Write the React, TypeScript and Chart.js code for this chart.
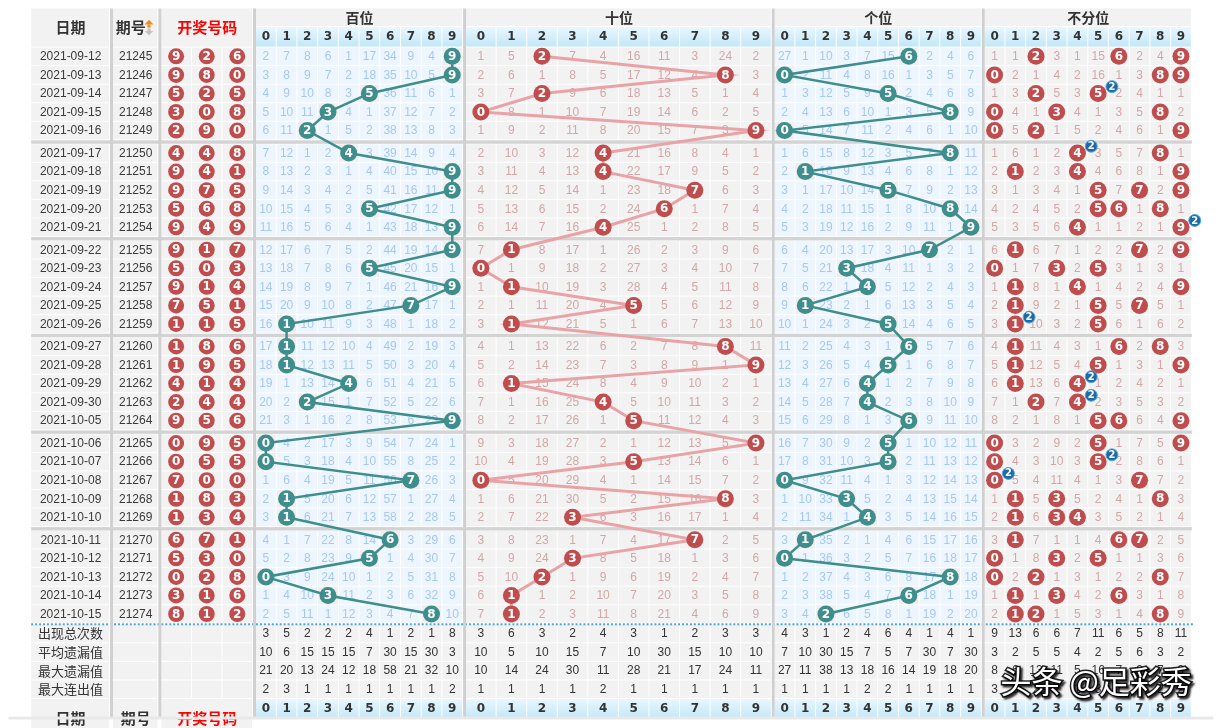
import React, { useEffect, useRef } from "react";
import { Chart, registerables } from "chart.js";

Chart.register(...registerables);

// ---------------- data ----------------
const dates = [
  "2021-09-12", "2021-09-13", "2021-09-14", "2021-09-15", "2021-09-16",
  "2021-09-17", "2021-09-18", "2021-09-19", "2021-09-20", "2021-09-21",
  "2021-09-22", "2021-09-23", "2021-09-24", "2021-09-25", "2021-09-26",
  "2021-09-27", "2021-09-28", "2021-09-29", "2021-09-30", "2021-10-05",
  "2021-10-06", "2021-10-07", "2021-10-08", "2021-10-09", "2021-10-10",
  "2021-10-11", "2021-10-12", "2021-10-13", "2021-10-14", "2021-10-15",
];
const issues = [
  "21245", "21246", "21247", "21248", "21249",
  "21250", "21251", "21252", "21253", "21254",
  "21255", "21256", "21257", "21258", "21259",
  "21260", "21261", "21262", "21263", "21264",
  "21265", "21266", "21267", "21268", "21269",
  "21270", "21271", "21272", "21273", "21274",
];
const hundreds = [9, 9, 5, 3, 2, 4, 9, 9, 5, 9, 9, 5, 9, 7, 1, 1, 1, 4, 2, 9, 0, 0, 7, 1, 1, 6, 5, 0, 3, 8];
const tens = [2, 8, 2, 0, 9, 4, 4, 7, 6, 4, 1, 0, 1, 5, 1, 8, 9, 1, 4, 5, 9, 5, 0, 8, 3, 7, 3, 2, 1, 1];
const units = [6, 0, 5, 8, 0, 8, 1, 5, 8, 9, 7, 3, 4, 1, 5, 6, 5, 4, 4, 6, 5, 5, 0, 3, 4, 1, 0, 8, 6, 2];

const digitLabels = ["0", "1", "2", "3", "4", "5", "6", "7", "8", "9"];
const sectionTitles = ["百位", "十位", "个位", "不分位"];

// omission values shown in the first row (0 = drawn this issue)
const firstMissHundreds = [2, 7, 8, 6, 1, 17, 34, 9, 4, 0];
const firstMissTens = [1, 5, 0, 7, 4, 16, 11, 3, 24, 2];
const firstMissUnits = [27, 1, 10, 3, 7, 15, 0, 2, 4, 6];
const firstMissAny = [1, 1, 0, 3, 1, 15, 0, 2, 4, 0];

const statLabels = ["出现总次数", "平均遗漏值", "最大遗漏值", "最大连出值"];
const statsHundreds = [
  [3, 5, 2, 2, 2, 4, 1, 2, 1, 8],
  [10, 6, 15, 15, 15, 7, 30, 15, 30, 3],
  [21, 20, 13, 24, 12, 18, 58, 21, 32, 10],
  [2, 3, 1, 1, 1, 1, 1, 1, 1, 2],
];
const statsTens = [
  [3, 6, 3, 2, 4, 3, 1, 2, 3, 3],
  [10, 5, 10, 15, 7, 10, 30, 15, 10, 10],
  [10, 14, 24, 30, 11, 28, 21, 17, 24, 11],
  [1, 1, 1, 1, 2, 1, 1, 1, 1, 1],
];
const statsUnits = [
  [4, 3, 1, 2, 4, 6, 4, 1, 4, 1],
  [7, 10, 30, 15, 7, 5, 7, 30, 7, 30],
  [27, 11, 38, 13, 18, 16, 14, 19, 18, 20],
  [1, 1, 1, 1, 2, 2, 1, 1, 1, 1],
];
const statsAny = [
  [9, 13, 6, 6, 7, 11, 6, 5, 8, 11],
  [3, 2, 5, 5, 4, 2, 5, 6, 3, 2],
  [8, 6, 13, 11, 5, 16, 7, 9, 7, 9],
  [3, 3, 2, 2, 1, 3, 1, 1, 2, 2],
];
const watermark = "头条 @足彩秀";

// ---------------- layout ----------------
const W = 1222;
const H = 728;
const TABLE_L = 23;
const TABLE_R = 1200;
const dateX0 = 23, dateW = 80;
const issueX0 = 106, issueW = 46;
const drawX0 = 155, drawW = 31;
const sectionX0 = [251, 464, 777, 990];
const sectionCellW = [21, 31, 21, 21];
const separatorsX = [103, 152, 248, 461, 774, 987];
const statTop0 = 631;
const bottomHeadTop = 707;

const rowTop = (i: number) => 40 + Math.floor(i / 5) * 99 + (i % 5) * 19;
const rowMid = (i: number) => rowTop(i) + 9;
const cellCenter = (s: number, d: number) => sectionX0[s] + d * sectionCellW[s] + sectionCellW[s] / 2 - 0.5;

const FONT_NUM = "12px 'Liberation Sans', Arial, sans-serif";
const FONT_CJK = "'Noto Sans CJK SC', 'Noto Sans', sans-serif";

const posDraws = [hundreds, tens, units];
const firstMiss = [firstMissHundreds, firstMissTens, firstMissUnits, firstMissAny];
const stats = [statsHundreds, statsTens, statsUnits, statsAny];

// occurrence count of digit d in issue i for section s (3 = any position)
function hitCount(s: number, i: number, d: number) {
  if (s < 3) return posDraws[s][i] === d ? 1 : 0;
  return (hundreds[i] === d ? 1 : 0) + (tens[i] === d ? 1 : 0) + (units[i] === d ? 1 : 0);
}

function buildMiss(s: number) {
  const rows: number[][] = [];
  for (let i = 0; i < dates.length; i++) {
    const r: number[] = [];
    for (let d = 0; d < 10; d++) {
      if (hitCount(s, i, d) > 0) r.push(0);
      else r.push(i === 0 ? firstMiss[s][d] : rows[i - 1][d] + 1);
    }
    rows.push(r);
  }
  return rows;
}
const missTables = [0, 1, 2, 3].map(buildMiss);

const RED = "#c04d4d";
const TEAL = "#3f8e8e";
const PINK_LINE = "#e9a3a6";
const BLUE_BG = "#edf6fe";
const GRAY_BG = "#f2f2f2";
const SEP = "#d0d0d0";

export default function App() {
  const ref = useRef<HTMLCanvasElement | null>(null);

  useEffect(() => {
    const canvas = ref.current!;

    const datasets: any[] = [];
    // badges (multiple occurrences) on top
    const badgePts: any[] = [];
    const badgeLabels: string[] = [];
    for (let i = 0; i < dates.length; i++) {
      for (let d = 0; d < 10; d++) {
        const c = hitCount(3, i, d);
        if (c >= 2) {
          badgePts.push({ x: cellCenter(3, d) + 14, y: rowMid(i) - 7 });
          badgeLabels.push(String(c));
        }
      }
    }
    datasets.push({
      label: "badges",
      data: badgePts,
      pointRadius: 6,
      pointBackgroundColor: "#1c6aa6",
      pointBorderColor: "#5aa8dc",
      pointBorderWidth: 1,
      showLine: false,
      order: -2,
      ballLabels: badgeLabels,
      ballFont: "bold 10px 'DejaVu Sans', sans-serif",
    });

    const lineColors = [TEAL, PINK_LINE, TEAL];
    const ballColors = [TEAL, RED, TEAL];
    posDraws.forEach((arr, s) => {
      datasets.push({
        label: sectionTitles[s],
        data: arr.map((d, i) => ({ x: cellCenter(s, d), y: rowMid(i) })),
        showLine: true,
        borderColor: lineColors[s],
        borderWidth: s === 1 ? 3 : 2.5,
        tension: 0,
        pointRadius: 8.5,
        pointBackgroundColor: ballColors[s],
        pointBorderWidth: 0,
        order: -1,
        ballLabels: arr.map(String),
      });
    });

    // winning number balls
    const winPts: any[] = [];
    const winLabels: string[] = [];
    for (let i = 0; i < dates.length; i++) {
      [hundreds[i], tens[i], units[i]].forEach((v, k) => {
        winPts.push({ x: drawX0 + k * drawW + drawW / 2 - 0.5, y: rowMid(i) });
        winLabels.push(String(v));
      });
    }
    datasets.push({
      label: "开奖号码",
      data: winPts,
      showLine: false,
      pointRadius: 8,
      pointBackgroundColor: RED,
      pointBorderWidth: 0,
      ballLabels: winLabels,
    });

    // 不分位 balls
    const anyPts: any[] = [];
    const anyLabels: string[] = [];
    for (let i = 0; i < dates.length; i++) {
      for (let d = 0; d < 10; d++) {
        if (hitCount(3, i, d) > 0) {
          anyPts.push({ x: cellCenter(3, d), y: rowMid(i) });
          anyLabels.push(String(d));
        }
      }
    }
    datasets.push({
      label: "不分位",
      data: anyPts,
      showLine: false,
      pointRadius: 8.5,
      pointBackgroundColor: RED,
      pointBorderWidth: 0,
      ballLabels: anyLabels,
    });

    const tablePlugin = {
      id: "lotteryTable",
      beforeDatasetsDraw(chart: any) {
        const ctx: CanvasRenderingContext2D = chart.ctx;
        const xs = chart.scales.x;
        const ys = chart.scales.y;
        const X = (v: number) => xs.getPixelForValue(v);
        const Y = (v: number) => ys.getPixelForValue(v);
        const rect = (x: number, y: number, w: number, h: number, fill: any) => {
          ctx.fillStyle = fill;
          ctx.fillRect(X(x), Y(y), X(x + w) - X(x), Y(y + h) - Y(y));
        };
        const text = (t: string, x: number, y: number, font: string, color: string) => {
          ctx.font = font;
          ctx.fillStyle = color;
          ctx.textAlign = "center";
          ctx.textBaseline = "middle";
          ctx.fillText(t, X(x), Y(y));
        };
        const headGrad = (top: number, h: number) => {
          const g = ctx.createLinearGradient(0, Y(top), 0, Y(top + h));
          g.addColorStop(0, "#e8f7fe");
          g.addColorStop(1, "#c3e7f8");
          return g;
        };

        ctx.save();
        rect(0, 0, W, H, "#ffffff");

        // ---- header ----
        rect(dateX0, 0, dateW - 1, 39, GRAY_BG);
        rect(issueX0, 0, issueW - 1, 39, GRAY_BG);
        rect(drawX0, 0, drawW * 3 - 1, 39, GRAY_BG);
        text("日期", dateX0 + dateW / 2, 19.5, `bold 15px ${FONT_CJK}`, "#333333");
        text("期号", issueX0 + 18, 19, `bold 15px ${FONT_CJK}`, "#333333");
        // sort icon
        ctx.fillStyle = "#f08a1c";
        ctx.beginPath();
        ctx.moveTo(X(142.5), Y(11.5));
        ctx.lineTo(X(138), Y(16.5));
        ctx.lineTo(X(147), Y(16.5));
        ctx.closePath();
        ctx.fill();
        ctx.fillRect(X(141), Y(16.5), 3, 3);
        ctx.fillStyle = "#c2c2c2";
        ctx.fillRect(X(141), Y(20.5), 3, 2.5);
        ctx.beginPath();
        ctx.moveTo(X(138), Y(23));
        ctx.lineTo(X(147), Y(23));
        ctx.lineTo(X(142.5), Y(27.5));
        ctx.closePath();
        ctx.fill();
        text("开奖号码", drawX0 + (drawW * 3) / 2, 19.5, `bold 15px ${FONT_CJK}`, "#ff0000");

        for (let s = 0; s < 4; s++) {
          const cw = sectionCellW[s];
          rect(sectionX0[s], 0, cw * 10 - 1, 18, GRAY_BG);
          text(sectionTitles[s], sectionX0[s] + cw * 5, 9, `bold 14px ${FONT_CJK}`, "#333333");
          for (let d = 0; d < 10; d++) {
            rect(sectionX0[s] + d * cw, 19, cw - 1, 20, headGrad(19, 20));
            text(digitLabels[d], sectionX0[s] + d * cw + cw / 2 - 0.5, 29.5, "bold 12px 'DejaVu Sans', sans-serif", "#333333");
          }
        }

        // ---- data rows ----
        for (let i = 0; i < dates.length; i++) {
          const top = rowTop(i);
          const mid = rowMid(i);
          rect(dateX0, top, dateW - 1, 18, GRAY_BG);
          rect(issueX0, top, issueW - 1, 18, GRAY_BG);
          for (let k = 0; k < 3; k++) rect(drawX0 + k * drawW, top, drawW - 1, 18, GRAY_BG);
          text(dates[i], dateX0 + dateW / 2, mid + 0.5, FONT_NUM, "#3a3a3a");
          text(issues[i], issueX0 + issueW / 2, mid + 0.5, FONT_NUM, "#3a3a3a");
          for (let s = 0; s < 4; s++) {
            const cw = sectionCellW[s];
            const blue = s === 0 || s === 2;
            for (let d = 0; d < 10; d++) {
              const v = missTables[s][i][d];
              let bg = blue ? BLUE_BG : GRAY_BG;
              if (v === 0 && blue) bg = "#efefef";
              rect(sectionX0[s] + d * cw, top, cw - 1, 18, bg);
              if (v > 0) {
                text(String(v), cellCenter(s, d), mid + 0.5, FONT_NUM, blue ? "#a7c8f2" : "#d3a7a7");
              }
            }
          }
        }

        // group separators
        for (let g = 1; g < 6; g++) {
          rect(TABLE_L, 40 + g * 99 - 4, TABLE_R - TABLE_L, 3.5, "#d3d3d3");
        }

        // ---- stats rows ----
        for (let k = 0; k < statLabels.length; k++) {
          const top = statTop0 + k * 19;
          const mid = top + 9;
          rect(dateX0, top, dateW - 1, 18, GRAY_BG);
          rect(issueX0, top, issueW - 1, 18, GRAY_BG);
          for (let j = 0; j < 3; j++) rect(drawX0 + j * drawW, top, drawW - 1, 18, GRAY_BG);
          text(statLabels[k], dateX0 + dateW / 2, mid, `13px ${FONT_CJK}`, "#333333");
          for (let s = 0; s < 4; s++) {
            const cw = sectionCellW[s];
            for (let d = 0; d < 10; d++) {
              rect(sectionX0[s] + d * cw, top, cw - 1, 18, GRAY_BG);
              text(String(stats[s][k][d]), cellCenter(s, d), mid + 0.5, FONT_NUM, "#333333");
            }
          }
        }
        // dotted line
        ctx.fillStyle = "#4aa6dc";
        for (let x = TABLE_L; x < TABLE_R; x += 4) {
          ctx.fillRect(X(x), Y(629.5), 2, 2);
        }

        // ---- bottom header ----
        rect(dateX0, bottomHeadTop, dateW - 1, 30, GRAY_BG);
        rect(issueX0, bottomHeadTop, issueW - 1, 30, GRAY_BG);
        rect(drawX0, bottomHeadTop, drawW * 3 - 1, 30, GRAY_BG);
        text("日期", dateX0 + dateW / 2, 727, `bold 15px ${FONT_CJK}`, "#333333");
        text("期号", issueX0 + issueW / 2, 727, `bold 15px ${FONT_CJK}`, "#333333");
        text("开奖号码", drawX0 + (drawW * 3) / 2, 727, `bold 15px ${FONT_CJK}`, "#ff0000");
        for (let s = 0; s < 4; s++) {
          const cw = sectionCellW[s];
          for (let d = 0; d < 10; d++) {
            rect(sectionX0[s] + d * cw, bottomHeadTop, cw - 1, 20, headGrad(bottomHeadTop, 20));
            text(digitLabels[d], cellCenter(s, d), bottomHeadTop + 10, "bold 12px 'DejaVu Sans', sans-serif", "#333333");
          }
        }

        // vertical separators
        separatorsX.forEach((sx) => rect(sx, 0, 3, 726, SEP));

        // page bottom band
        rect(0, 725, W, 3, "#e9e9e9");
        ctx.restore();
      },
      afterDatasetsDraw(chart: any) {
        const ctx: CanvasRenderingContext2D = chart.ctx;
        ctx.save();
        ctx.textAlign = "center";
        ctx.textBaseline = "middle";
        chart.data.datasets.forEach((ds: any, di: number) => {
          const meta = chart.getDatasetMeta(di);
          const labels: string[] = ds.ballLabels || [];
          ctx.font = ds.ballFont || "bold 12px 'DejaVu Sans', sans-serif";
          ctx.fillStyle = "#ffffff";
          meta.data.forEach((pt: any, j: number) => {
            if (labels[j] !== undefined) ctx.fillText(labels[j], pt.x, pt.y + 0.5);
          });
        });
        ctx.restore();
      },
      afterDraw(chart: any) {
        const ctx: CanvasRenderingContext2D = chart.ctx;
        const xs = chart.scales.x;
        const ys = chart.scales.y;
        const wx = xs.getPixelForValue(1006);
        const wy = ys.getPixelForValue(689);
        ctx.save();
        ctx.font = `31px ${FONT_CJK}`;
        ctx.textAlign = "left";
        ctx.textBaseline = "middle";
        ctx.shadowColor = "rgba(0,0,0,0.95)";
        ctx.shadowBlur = 2;
        ctx.shadowOffsetX = 2;
        ctx.shadowOffsetY = 2;
        ctx.lineWidth = 3;
        ctx.strokeStyle = "rgba(0,0,0,0.85)";
        ctx.strokeText(watermark, wx, wy);
        ctx.shadowColor = "transparent";
        ctx.fillStyle = "#ffffff";
        ctx.fillText(watermark, wx, wy);
        ctx.restore();
      },
    };

    const chart = new Chart(canvas, {
      type: "scatter",
      data: { datasets },
      options: {
        responsive: false,
        maintainAspectRatio: false,
        animation: false,
        devicePixelRatio: 1,
        layout: { padding: 0 },
        plugins: { legend: { display: false }, tooltip: { enabled: false } },
        events: [],
        scales: {
          x: { type: "linear", min: 0, max: W, display: false },
          y: { type: "linear", min: 0, max: H, reverse: true, display: false },
        },
      },
      plugins: [tablePlugin],
    } as any);

    return () => chart.destroy();
  }, []);

  return (
    <div style={{ position: "fixed", left: 0, top: 0, width: W, height: H, background: "#ffffff" }}>
      <canvas ref={ref} width={W} height={H} style={{ display: "block", width: W, height: H }} />
    </div>
  );
}
